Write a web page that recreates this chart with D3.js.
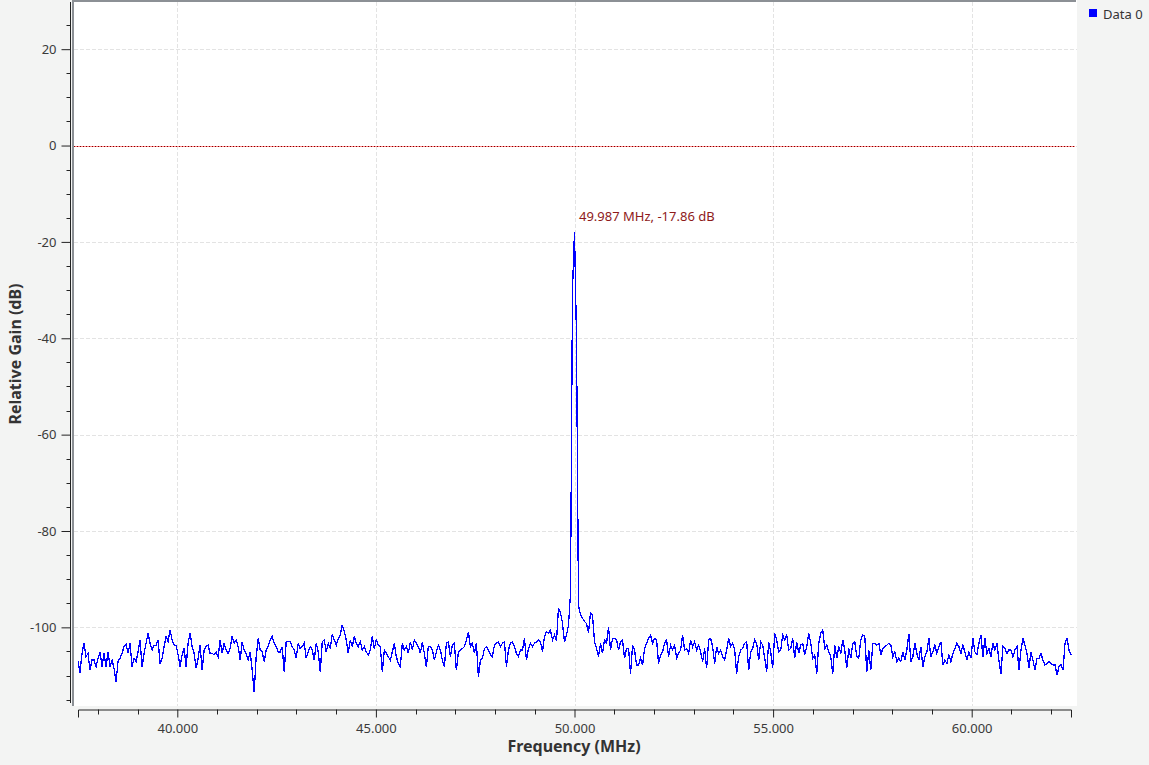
<!DOCTYPE html>
<html><head><meta charset="utf-8">
<script src="https://cdn.jsdelivr.net/npm/d3@7"></script>
<style>
html,body{margin:0;padding:0;background:#f3f4f3;}
svg{display:block;font-family:"Noto Sans",sans-serif;}
</style></head>
<body>
<svg id="chart" width="1149" height="765"></svg>
<script>
// ---- data ----
const freqStart = 37.5;   // MHz, first FFT bin
const freqStop = 62.5;    // MHz, last FFT bin
const gainDb = [
-107.1,-109.4,-105.4,-103.3,-106.1,-105.4,-108.9,-106.8,-106.8,-108.2,
-106.4,-105.1,-108.2,-105.4,-108.2,-105.1,-108.2,-106.8,-108.5,-111.3,
-107.1,-106.4,-105.4,-104.0,-103.5,-105.4,-103.3,-108.2,-106.4,-107.1,
-105.1,-102.6,-108.2,-105.4,-103.3,-101.2,-103.3,-104.7,-103.7,-103.7,
-102.6,-107.5,-106.4,-104.0,-101.9,-103.0,-100.6,-102.6,-103.7,-103.7,
-105.7,-108.2,-105.7,-104.4,-108.2,-103.3,-101.2,-104.0,-105.4,-108.5,
-106.4,-103.7,-108.9,-104.7,-103.9,-103.7,-105.4,-105.4,-105.7,-105.1,
-106.1,-102.6,-105.4,-103.3,-104.7,-105.4,-104.4,-101.9,-103.3,-102.6,
-104.0,-106.8,-103.0,-104.7,-105.4,-106.8,-105.1,-108.9,-113.4,-106.1,
-102.3,-104.7,-105.1,-107.1,-104.7,-104.0,-102.6,-101.9,-103.3,-104.0,
-105.1,-105.1,-104.0,-109.2,-103.0,-103.0,-103.0,-104.0,-104.7,-106.4,
-103.3,-104.4,-104.0,-103.3,-106.4,-105.1,-104.0,-104.7,-106.8,-103.3,
-105.1,-109.2,-103.0,-102.6,-105.1,
-103.3,-104.4,-101.4,-102.6,-103.7,-102.3,-101.6,-99.5,-100.9,-102.6,
-105.4,-102.6,-104.0,-101.9,-103.3,-104.0,-103.0,-104.7,-104.0,-105.1,
-105.7,-104.7,-101.9,-104.4,-102.6,-103.7,-104.0,-109.2,-104.7,-105.4,
-106.1,-106.8,-105.1,-103.3,-106.1,-107.5,-108.2,-103.3,-104.7,-104.0,
-105.4,-103.0,-104.7,-102.6,-103.3,-104.0,-105.4,-103.0,-105.4,-108.2,
-104.0,-104.0,-104.7,-106.8,-105.1,-103.7,-104.7,-106.8,-108.2,-103.3,
-103.0,-106.1,-103.7,-103.3,-108.9,-105.1,-104.7,-104.4,-104.0,-102.6,
-100.9,-104.0,-103.3,-105.4,-103.3,-110.2,-106.8,-106.4,-104.4,-104.0,
-104.7,-105.7,-106.1,-103.7,-103.3,-103.0,-104.0,-103.3,-103.0,-108.2,
-104.7,-103.3,-103.0,-104.0,-105.4,-106.1,-104.7,-104.7,-102.3,-106.8,
-104.4,-103.3,-104.0,-103.3,-103.0,-102.6,-103.0,-105.1,-101.9,-100.9,
-101.2,-100.6,-102.6,-101.6,
-102.8,-96.0,-97.0,-99.1,-103.1,-101.6,-99.5,-93.0,-30.0,-17.86,-40.0,-95.5,
-97.4,-98.1,-98.8,-99.2,-101.1,-97.0,-97.4,-103.0,-104.4,-106.1,
-103.3,-105.4,-102.6,-103.3,-99.9,-104.7,-102.3,-102.3,-102.6,-104.7,
-103.0,-102.6,-106.4,-104.4,-104.4,-109.6,-103.7,-104.7,-107.8,-107.8,
-106.4,-107.8,-104.4,-103.3,-102.3,-101.6,-103.3,-102.3,-102.6,-107.5,
-105.7,-105.1,-103.3,-102.6,-106.1,-103.7,-104.7,-103.7,-106.4,-105.4,
-104.7,-101.6,-104.7,-104.4,-105.4,-102.6,-104.0,-103.0,-104.7,-103.7,
-105.1,-107.1,-104.4,-108.5,-102.6,-102.3,-104.0,-107.5,-104.0,-105.4,
-104.7,-106.1,-106.8,-104.7,-102.3,-104.0,-103.3,-104.7,-109.6,-106.1,
-104.7,-104.4,-103.3,-103.0,-108.9,-105.1,-104.4,-102.6,-103.3,-106.8,
-103.0,-103.7,-106.4,-109.2,-103.0,-105.1,-108.5,-101.2,-102.6,-105.1,
-104.7,-101.6,-102.6,-101.6,-104.7,-104.4,-102.3,-106.4,-103.0,-105.4,
-103.7,-103.3,-105.7,-104.0,-101.2,-103.3,-106.4,-105.7,-109.6,-103.3,
-101.2,
-100.6,-104.4,-103.7,-105.1,-106.1,-109.6,-103.7,-106.4,-104.0,-105.4,
-102.6,-104.7,-108.5,-104.4,-106.4,-103.3,-103.0,-106.1,-106.4,-102.6,
-101.6,-101.9,-109.2,-104.7,-108.9,-103.3,-103.3,-103.7,-103.3,-105.7,
-104.4,-104.0,-103.7,-103.3,-103.7,-106.1,-105.1,-107.1,-106.4,-107.1,
-105.1,-106.8,-104.7,-101.4,-107.1,-106.1,-103.3,-105.4,-106.8,-104.0,
-108.2,-106.1,-105.1,-102.3,-106.1,-105.1,-103.7,-105.4,-104.0,-103.0,
-107.8,-106.8,-107.5,-105.7,-107.1,-105.4,-104.4,-103.3,-104.0,-105.4,
-103.7,-105.1,-106.8,-105.1,-106.4,-102.3,-105.1,-105.7,-103.3,-101.6,
-106.1,-102.3,-105.4,-104.4,-106.1,-103.3,-104.7,-103.3,-106.8,-109.6,
-104.0,-104.4,-105.4,-104.7,-104.7,-106.1,-104.7,-104.0,-108.9,-104.7,
-102.3,-103.7,-105.4,-108.5,-105.1,-106.8,-108.9,-106.4,-106.4,-105.4,
-106.8,-107.8,-107.5,-107.1,-107.5,-107.8,-107.8,-109.9,-108.2,-107.8,
-108.9,-103.3,-102.3,-104.7,-105.7
];
const xMajorTicks = [40, 45, 50, 55, 60];
const yMajorTicks = [20, 0, -20, -40, -60, -80, -100];
const seriesNames = ["Data 0"];
const markerFreq = 49.987;
const markerGain = -17.86;
const referenceLevel = 0;

// ---- layout ----
const svg = d3.select("#chart");
const canvas = {x0: 72, x1: 1077, y0: 0, y1: 706};
const x = d3.scaleLinear().domain([freqStart, freqStop]).range([78, 1071]);
const y = d3.scaleLinear().domain([-115.7, 30]).range([703, 1]);
const freqs = gainDb.map((d, i) => freqStart + i * (freqStop - freqStart) / (gainDb.length - 1));

// canvas
svg.append("rect").attr("x", canvas.x0).attr("y", canvas.y0)
  .attr("width", canvas.x1 - canvas.x0).attr("height", canvas.y1 - canvas.y0).attr("fill", "#ffffff");

// grid
const grid = svg.append("g").attr("stroke", "#e3e3e3").attr("stroke-width", 1).attr("stroke-dasharray", "4,2");
grid.selectAll(".gx").data(xMajorTicks).join("line")
  .attr("x1", d => Math.round(x(d)) + 0.5).attr("x2", d => Math.round(x(d)) + 0.5)
  .attr("y1", canvas.y0 + 2).attr("y2", canvas.y1);
grid.selectAll(".gy").data(yMajorTicks).join("line")
  .attr("y1", d => Math.round(y(d)) + 0.5).attr("y2", d => Math.round(y(d)) + 0.5)
  .attr("x1", canvas.x0 + 2).attr("x2", canvas.x1);

// canvas frame (left + top)
svg.append("rect").attr("x", canvas.x0).attr("y", 0).attr("width", 2).attr("height", canvas.y1).attr("fill", "#8c9095");
svg.append("rect").attr("x", canvas.x0).attr("y", 0).attr("width", canvas.x1 - canvas.x0 - 1).attr("height", 2).attr("fill", "#8c9095");

// reference level line
svg.append("line").attr("x1", canvas.x0 + 2).attr("x2", canvas.x1 - 2)
  .attr("y1", Math.round(y(referenceLevel)) + 0.5).attr("y2", Math.round(y(referenceLevel)) + 0.5)
  .attr("stroke", "#ff8a8a").attr("stroke-width", 1);
svg.append("line").attr("x1", canvas.x0 + 2).attr("x2", canvas.x1 - 2)
  .attr("y1", Math.round(y(referenceLevel)) + 0.5).attr("y2", Math.round(y(referenceLevel)) + 0.5)
  .attr("stroke", "#7a0000").attr("stroke-width", 1).attr("stroke-dasharray", "1,2");

// trace
const line = d3.line().x((d, i) => x(freqs[i])).y(d => y(d));
svg.append("path").datum(gainDb).attr("d", line)
  .attr("fill", "none").attr("stroke", "#0000ff").attr("stroke-width", 1.3)
  .attr("shape-rendering", "crispEdges");

// marker label
svg.append("text").attr("x", x(markerFreq) + 5).attr("y", y(markerGain) - 11)
  .attr("fill", "#8e1a1a").attr("font-size", 13)
  .text(`${markerFreq.toFixed(3)} MHz, ${markerGain.toFixed(2)} dB`);

// Y axis
const yAxisMajor = d3.axisLeft(y).tickValues(yMajorTicks).tickSize(9).tickPadding(5).tickFormat(d => String(d));
const yMinor = d3.range(-115, 30, 5).filter(v => v % 20 !== 0);
const gy = svg.append("g").attr("transform", "translate(70.5,0)").call(yAxisMajor);
gy.select(".domain").attr("d", `M0,${y.range()[1] + 1}V${y.range()[0]}`);
gy.selectAll(".yminor").data(yMinor).join("line").attr("class", "yminor")
  .attr("x1", -4).attr("x2", 0).attr("y1", d => Math.round(y(d)) + 0.5).attr("y2", d => Math.round(y(d)) + 0.5)
  .attr("stroke", "#222");

// X axis
const xAxisMajor = d3.axisBottom(x).tickValues(xMajorTicks).tickSize(8).tickPadding(6).tickFormat(d => d.toFixed(3));
const xMinor = d3.range(38, 63, 1).filter(v => v % 5 !== 0);
const gx = svg.append("g").attr("transform", "translate(0,709.5)").call(xAxisMajor);
gx.selectAll(".xminor").data(xMinor).join("line").attr("class", "xminor")
  .attr("y1", 0).attr("y2", 5).attr("x1", d => Math.round(x(d)) + 0.5).attr("x2", d => Math.round(x(d)) + 0.5)
  .attr("stroke", "#222");

[gx, gy].forEach(g => {
  g.select(".domain").attr("stroke", "#222");
  g.selectAll(".tick line").attr("stroke", "#222");
  g.selectAll(".tick text").attr("fill", "#3a3a3a").attr("font-size", 13).attr("font-family", "Noto Sans");
});

// axis titles
svg.append("text").attr("x", 574).attr("y", 752).attr("text-anchor", "middle")
  .attr("font-size", 16).attr("font-weight", "bold").attr("fill", "#333").text("Frequency (MHz)");
svg.append("text").attr("transform", "translate(21,354) rotate(-90)").attr("text-anchor", "middle")
  .attr("font-size", 16).attr("font-weight", "bold").attr("fill", "#333").text("Relative Gain (dB)");

// legend
const lg = svg.append("g").attr("transform", "translate(1089,9)");
lg.selectAll("rect").data(seriesNames).join("rect")
  .attr("x", 0).attr("y", (d, i) => i * 18).attr("width", 8).attr("height", 8).attr("fill", "#0000ff");
lg.selectAll("text").data(seriesNames).join("text")
  .attr("x", 14).attr("y", (d, i) => i * 18 + 9.5).attr("font-size", 13).attr("fill", "#333").text(d => d);
</script>
</body></html>
